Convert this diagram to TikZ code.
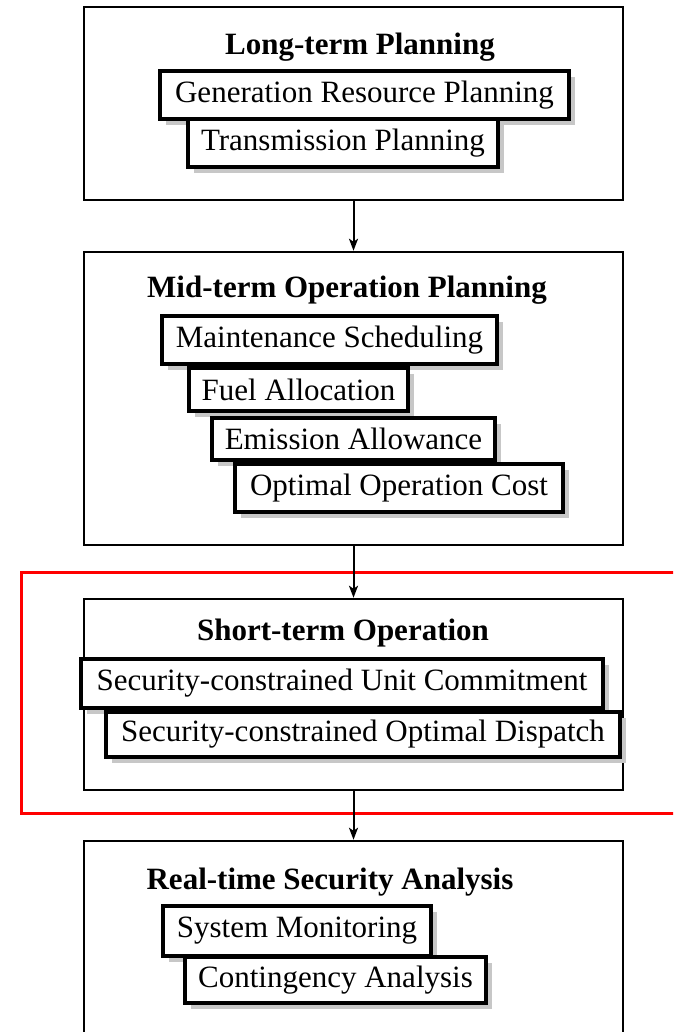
\documentclass[tikz,border=0pt]{standalone}
\usepackage{fontspec}
\setmainfont{Liberation Serif}
\usetikzlibrary{arrows.meta,shadows}

\tikzset{
  stage/.style={draw, line width=2.5pt, inner sep=0pt, minimum width=539pt},
  stagetitle/.style={font=\fontsize{31}{36}\selectfont\bfseries, inner sep=0pt},
  task/.style={draw, fill=white, line width=3.5pt, inner sep=0pt,
    font=\fontsize{31}{36}\selectfont,
    drop shadow={shadow xshift=6pt, shadow yshift=-6pt, fill=black!22, opacity=1}},
  flow/.style={line width=2pt, -{Stealth[length=12pt,width=9pt,inset=3pt]}}
}

\begin{document}
\begin{tikzpicture}[x=1pt,y=-1pt]
  \useasboundingbox (0,0) rectangle (673,1032);
  \clip (0,0) rectangle (673,1032);

  % stages
  \node[stage, minimum height=193pt] (long) at (353.5,103.5) {};
  \node[stage, minimum height=293pt] (mid) at (353.5,398.5) {};
  \node[stage, minimum height=191pt] (short) at (353.5,694.5) {};
  \node[stage, minimum height=218pt] (real) at (353.5,950) {};

  \node[stagetitle] (longtitle) at (360,47) {Long-term Planning};
  \node[stagetitle] (midtitle) at (347,290) {Mid-term Operation Planning};
  \node[stagetitle] (shorttitle) at (343,633) {Short-term Operation};
  \node[stagetitle] (realtitle) at (330,882) {Real-time Security Analysis};

  % long-term tasks
  \node[task, minimum width=409pt, minimum height=48pt] (genplan) at (364.5,95) {Generation Resource Planning};
  \node[task, minimum width=310pt, minimum height=48pt] (transplan) at (343,143) {Transmission Planning};

  % mid-term tasks
  \node[task, minimum width=335pt, minimum height=48pt] (maint) at (329.5,340) {Maintenance Scheduling};
  \node[task, minimum width=219pt, minimum height=43pt] (fuel) at (298.5,389.5) {Fuel Allocation};
  \node[task, minimum width=283pt, minimum height=42pt] (emission) at (353.5,439) {Emission Allowance};
  \node[task, minimum width=328pt, minimum height=48pt] (opcost) at (399,488) {Optimal Operation Cost};

  % short-term tasks
  \node[task, minimum width=522pt, minimum height=49pt] (scuc) at (342,683.5) {Security-constrained Unit Commitment};
  \node[task, minimum width=514pt, minimum height=45pt] (scod) at (363,734.5) {Security-constrained Optimal Dispatch};

  % real-time tasks
  \node[task, minimum width=268pt, minimum height=50pt] (monitor) at (297,931) {System Monitoring};
  \node[task, minimum width=301pt, minimum height=46pt] (contin) at (335.5,980) {Contingency Analysis};

  \draw[red, line width=3pt] (700,572) -- (21,572) -- (21,813) -- (700,813);% highlight

  \draw[flow] (long.south) -- (mid.north);
  \draw[flow] (mid.south) -- (short.north);
  \draw[flow] (short.south) -- (real.north);
\end{tikzpicture}
\end{document}
